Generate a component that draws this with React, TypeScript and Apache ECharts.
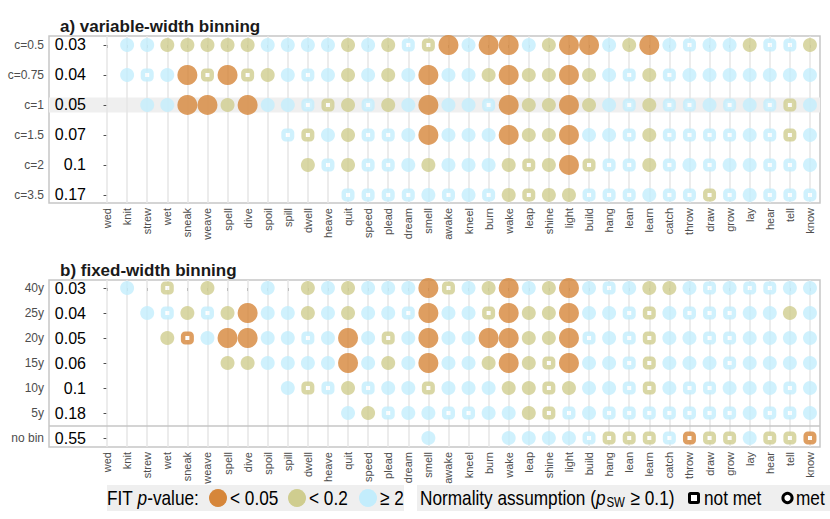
import React, { useEffect, useRef } from 'react';
import * as echarts from 'echarts';

// x categories (verbs)
const verbs = ['wed', 'knit', 'strew', 'wet', 'sneak', 'weave', 'spell', 'dive', 'spoil', 'spill', 'dwell', 'heave', 'quit', 'speed', 'plead', 'dream', 'smell', 'awake', 'kneel', 'burn', 'wake', 'leap', 'shine', 'light', 'build', 'hang', 'lean', 'learn', 'catch', 'throw', 'draw', 'grow', 'lay', 'hear', 'tell', 'know'];

// Codes: '.' = no value, R/O/B = FIT p < 0.05 / < 0.2 / >= 0.2 with normality met (circle),
// lowercase r/o/b = same p-value class with normality not met (square)
const rowsA = ['c=0.5', 'c=0.75', 'c=1', 'c=1.5', 'c=2', 'c=3.5'];
const fitA = ['0.03', '0.04', '0.05', '0.07', '0.1', '0.17'];
const cellsA = [
  '.BBOOOOOBBBBOBObo' + 'RBRRBORR' + 'BORBbBBObbO',
  '.BbBRoRoOBbBOBOB' + 'RBBOROORO' + 'BbObBBBBBBB',
  '..BBRRORBBboObOB' + 'RBBbROORO' + 'BbObbBbBboB',
  '.........' + 'boBObbB' + 'RBBBROORB' + 'BbObbbbBboB',
  '..........' + 'ObObbB' + 'OBBBOoORo' + 'bbObBbBBbbB',
  '............' + 'bbbb' + 'BbBbOoOOb' + 'bbBbbobBbbb',
];

const rowsB = ['40y', '25y', '20y', '15y', '10y', '5y', 'no bin'];
const fitB = ['0.03', '0.04', '0.05', '0.06', '0.1', '0.18', '0.55'];
const cellsB = [
  '.B.o.O..B.OBOBBB' + 'RoBORBORB' + 'bBOOBbBbbBB',
  '..BbObORBBOBOBBb' + 'RBBoROORB' + 'BboBbbbBBOB',
  '...OrBRRBBbBRBoB' + 'RBBRROORb' + 'BboBBbbBBBB',
  '......' + 'OOBBBBRBOB' + 'RBBOROoRB' + 'BboBBBbBBBB',
  '.........' + 'BobObBB' + 'oBBBOOoOB' + 'BboBbbBBBbB',
  '............' + 'BObB' + 'BbbBBOobB' + 'bbbbbbbBbbB',
  '................' + 'B...BBBBb' + 'ooobrooBoor',
];

const legendP = ['< 0.05', '< 0.2', '≥ 2'];

const COLORS: Record<string, string> = { R: '#D6863A', O: '#CFCD8F', B: '#C3EDFC' };
const GRAY = '#4D4D4D';
const FRAME = '#C6C6C6';
const VLINE = '#E6E6E6';
const SANS = '"Liberation Sans", Arial, sans-serif';
const LFS = 21; // legend font size
const NX = 0.82; // horizontal squeeze to emulate a narrow face

function buildData(cells: string[]) {
  const out: any[] = [];
  cells.forEach((row, r) => {
    row.split('').forEach((ch, c) => {
      if (ch === '.') return;
      const key = ch.toUpperCase();
      const col = COLORS[key];
      const square = ch !== key;
      out.push({
        value: [c, r],
        symbol: square ? 'roundRect' : 'circle',
        symbolSize: square ? 8.5 : key === 'R' ? 20 : 14,
        itemStyle: square
          ? { color: '#ffffff', borderColor: col, borderWidth: 4.5 }
          : { color: col, borderWidth: 0 },
      });
    });
  });
  return out;
}

const colIdx = verbs.map((_, i) => i);

function xAxisFor(gridIndex: number) {
  return {
    type: 'value',
    gridIndex,
    min: -2.89,
    max: 35.5,
    splitLine: { show: false },
    axisLine: { show: false },
    axisTick: { show: true, customValues: colIdx, length: 3, lineStyle: { color: GRAY, width: 1 } },
    axisLabel: {
      customValues: colIdx,
      formatter: (v: number) => verbs[Math.round(v)] ?? '',
      rotate: 90,
      fontSize: 11,
      color: GRAY,
      margin: 5,
      fontFamily: SANS,
    },
  };
}

function yAxesFor(gridIndex: number, rows: string[], fits: string[], min: number, max: number) {
  const idx = rows.map((_, i) => i);
  return [
    {
      type: 'value',
      gridIndex,
      inverse: true,
      min,
      max,
      splitLine: { show: false },
      axisLine: { show: false },
      axisTick: { show: true, customValues: idx, length: 3.5, lineStyle: { color: GRAY, width: 1 } },
      axisLabel: {
        customValues: idx,
        formatter: (v: number) => rows[Math.round(v)] ?? '',
        fontSize: 12,
        color: GRAY,
        margin: 5,
        fontFamily: SANS,
      },
    },
    {
      type: 'value',
      gridIndex,
      position: 'left',
      inverse: true,
      min,
      max,
      splitLine: { show: false },
      axisLine: { show: false },
      axisTick: { show: false },
      axisLabel: {
        inside: true,
        customValues: idx,
        formatter: (v: number) => fits[Math.round(v)] ?? '',
        align: 'right',
        margin: 37,
        fontSize: 16,
        color: '#000000',
        fontFamily: SANS,
      },
    },
  ];
}

const verticals = verbs.map((_, i) => ({ xAxis: i }));

function ltext(x: number, y: number, text: string) {
  return { type: 'text', x, y, scaleX: NX, style: { text, fontSize: LFS, fontFamily: SANS, fill: '#000', verticalAlign: 'middle' } };
}

export default function App() {
  const ref = useRef<HTMLDivElement>(null);
  useEffect(() => {
    if (!ref.current) return;
    const chart = echarts.init(ref.current, undefined, { renderer: 'svg' });
    const legendY = 498;
    const option: any = {
      animation: false,
      backgroundColor: '#ffffff',
      title: [
        { text: 'a) variable-width binning', left: 55, top: 13, textStyle: { fontSize: 17, fontWeight: 'bold', color: '#1A1A1A', fontFamily: SANS } },
        { text: 'b) fixed-width binning', left: 55, top: 257, textStyle: { fontSize: 17, fontWeight: 'bold', color: '#1A1A1A', fontFamily: SANS } },
      ],
      grid: [
        { left: 49, top: 36, width: 771, height: 167, show: true, borderColor: FRAME, borderWidth: 1.5, backgroundColor: 'transparent' },
        { left: 49, top: 280, width: 771, height: 167, show: true, borderColor: FRAME, borderWidth: 1.5, backgroundColor: 'transparent' },
      ],
      xAxis: [xAxisFor(0), xAxisFor(1)],
      yAxis: [
        ...yAxesFor(0, rowsA, fitA, -0.3, 5.27),
        ...yAxesFor(1, rowsB, fitB, -0.32, 6.36),
      ],
      series: [
        {
          type: 'scatter',
          xAxisIndex: 0,
          yAxisIndex: 0,
          z: 10,
          data: buildData(cellsA),
          markArea: {
            silent: true,
            z: 0,
            itemStyle: { color: '#EFEFEF' },
            data: [[{ yAxis: 1.75 }, { yAxis: 2.25 }]],
          },
          markLine: {
            silent: true,
            z: 1,
            symbol: 'none',
            label: { show: false },
            lineStyle: { color: VLINE, width: 1.5, type: 'solid' },
            data: verticals,
          },
        },
        {
          type: 'scatter',
          xAxisIndex: 1,
          yAxisIndex: 2,
          z: 10,
          data: buildData(cellsB),
          markLine: {
            silent: true,
            z: 1,
            symbol: 'none',
            label: { show: false },
            lineStyle: { color: VLINE, width: 1.5, type: 'solid' },
            data: [...verticals, { yAxis: 5.5, lineStyle: { color: FRAME, width: 1.5, type: 'solid' } }],
          },
        },
      ],
      graphic: [
        { type: 'rect', shape: { x: 107, y: 485, width: 297, height: 26 }, style: { fill: '#EFEFEF' } },
        {
          type: 'text', x: 107, y: legendY, scaleX: NX,
          style: {
            text: '{n|FIT }{i|p}{n|-value:}', verticalAlign: 'middle',
            rich: {
              n: { fontSize: LFS, fontFamily: SANS, fill: '#000' },
              i: { fontSize: LFS, fontFamily: SANS, fontStyle: 'italic', fill: '#000' },
            },
          },
        },
        { type: 'circle', shape: { cx: 218, cy: legendY, r: 9 }, style: { fill: COLORS.R } },
        ltext(230, legendY, legendP[0]),
        { type: 'circle', shape: { cx: 297, cy: legendY, r: 9 }, style: { fill: COLORS.O } },
        ltext(309, legendY, legendP[1]),
        { type: 'circle', shape: { cx: 368, cy: legendY, r: 9 }, style: { fill: COLORS.B } },
        ltext(380, legendY, legendP[2]),
        { type: 'rect', shape: { x: 417, y: 485, width: 413, height: 26 }, style: { fill: '#EFEFEF' } },
        {
          type: 'text', x: 420, y: legendY, scaleX: NX,
          style: {
            text: '{n|Normality assumption (}{i|p}{s|SW}{n| ≥ 0.1)}', verticalAlign: 'middle',
            rich: {
              n: { fontSize: LFS, fontFamily: SANS, fill: '#000', lineHeight: 23 },
              i: { fontSize: LFS, fontFamily: SANS, fontStyle: 'italic', fill: '#000', lineHeight: 23 },
              s: { fontSize: 14, fontFamily: SANS, fill: '#000', lineHeight: 14, verticalAlign: 'bottom', padding: [0, 1, 0, 1] },
            },
          },
        },
        { type: 'rect', shape: { x: 689.5, y: legendY - 4.5, width: 9, height: 9, r: 1 }, style: { fill: '#fff', stroke: '#000', lineWidth: 3 } },
        ltext(704, legendY, 'not met'),
        { type: 'circle', shape: { cx: 787.5, cy: legendY, r: 4.6 }, style: { fill: '#fff', stroke: '#000', lineWidth: 3 } },
        ltext(796, legendY, 'met'),
      ],
    };
    chart.setOption(option);
    return () => chart.dispose();
  }, []);
  return <div ref={ref} style={{ position: 'fixed', left: 0, top: 0, width: 830, height: 519 }} />;
}
